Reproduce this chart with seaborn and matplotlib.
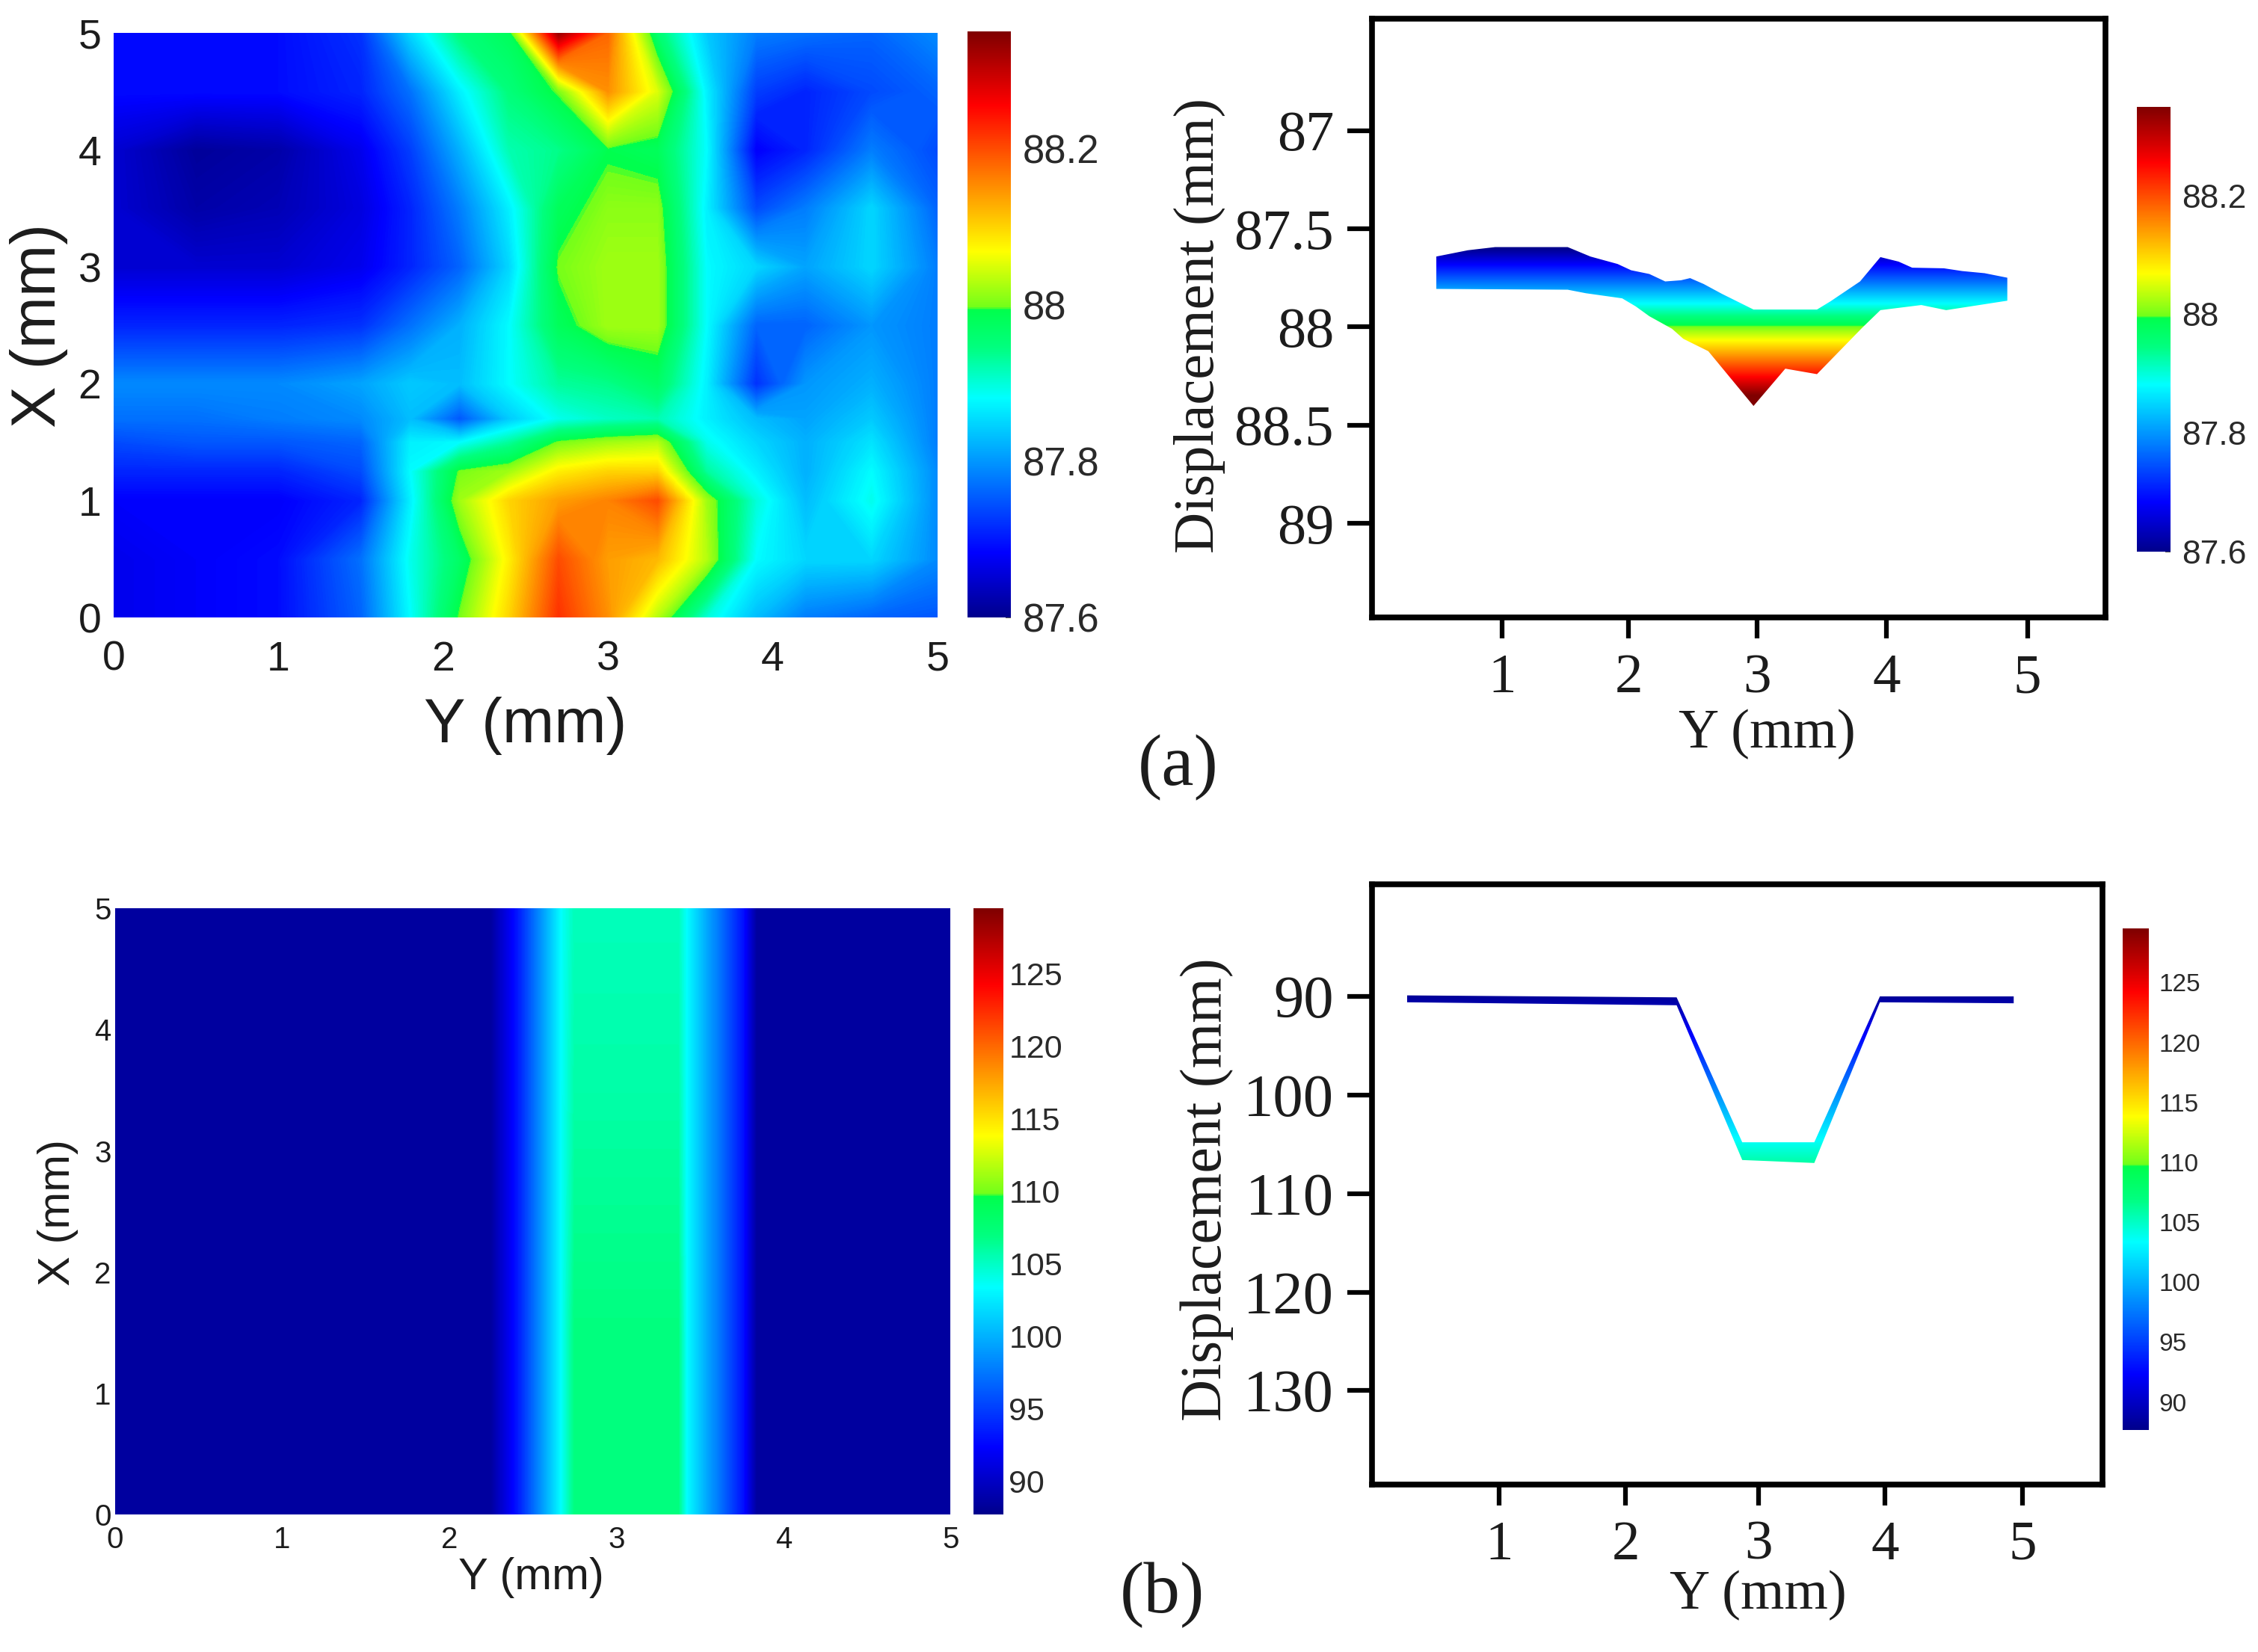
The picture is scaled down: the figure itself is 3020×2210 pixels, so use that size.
import numpy as np
import matplotlib
matplotlib.use("Agg")
import matplotlib.pyplot as plt
from matplotlib.cm import ScalarMappable
from matplotlib.colors import LinearSegmentedColormap, Normalize
import seaborn as sns

# ---------- data ----------
a_y_cols = [0, .5, 1, 1.5, 1.8, 2.1, 2.4, 2.7, 3, 3.3, 3.6, 3.9, 4.2, 4.6, 5]
a_x_rows = [0, .5, 1, 1.25, 1.5, 1.7, 2, 2.5, 3, 3.5, 4, 4.5, 5]
a_row_00 = [87.67, 87.68, 87.69, 87.76, 87.88, 88.00, 88.10, 88.22, 88.15, 88.03, 87.90, 87.83, 87.78, 87.76, 87.75]
a_row_05 = [87.67, 87.68, 87.69, 87.77, 87.89, 87.97, 88.08, 88.20, 88.14, 88.12, 88.03, 87.88, 87.85, 87.85, 87.79]
a_row_10 = [87.68, 87.68, 87.68, 87.71, 87.87, 88.02, 88.10, 88.14, 88.16, 88.20, 88.02, 87.90, 87.83, 87.89, 87.79]
a_row_12 = [87.71, 87.71, 87.71, 87.74, 87.88, 88.00, 88.02, 88.08, 88.10, 88.10, 87.93, 87.87, 87.82, 87.88, 87.79]
a_row_15 = [87.74, 87.75, 87.75, 87.76, 87.87, 87.88, 87.93, 88.00, 88.02, 88.03, 87.89, 87.85, 87.82, 87.86, 87.78]
a_row_17 = [87.77, 87.77, 87.78, 87.79, 87.83, 87.75, 87.84, 87.89, 87.91, 87.92, 87.87, 87.83, 87.81, 87.84, 87.78]
a_row_20 = [87.79, 87.79, 87.79, 87.81, 87.84, 87.83, 87.88, 87.93, 87.94, 87.97, 87.87, 87.72, 87.80, 87.82, 87.78]
a_row_25 = [87.71, 87.71, 87.71, 87.72, 87.77, 87.82, 87.88, 87.98, 88.02, 88.02, 87.88, 87.76, 87.76, 87.80, 87.78]
a_row_30 = [87.65, 87.65, 87.65, 87.67, 87.71, 87.76, 87.85, 88.00, 88.02, 88.02, 87.88, 87.85, 87.81, 87.85, 87.78]
a_row_35 = [87.65, 87.62, 87.63, 87.66, 87.71, 87.78, 87.87, 87.98, 88.01, 88.01, 87.87, 87.74, 87.78, 87.85, 87.76]
a_row_40 = [87.65, 87.61, 87.62, 87.67, 87.73, 87.82, 87.92, 87.94, 87.99, 87.98, 87.88, 87.68, 87.71, 87.78, 87.74]
a_row_45 = [87.69, 87.69, 87.69, 87.71, 87.77, 87.87, 87.95, 88.00, 88.15, 88.05, 87.87, 87.73, 87.71, 87.74, 87.76]
a_row_50 = [87.69, 87.69, 87.69, 87.72, 87.85, 87.95, 87.98, 88.33, 88.18, 87.96, 87.84, 87.78, 87.77, 87.76, 87.79]

a_top_y = [.488, .735, .947, 1.513, 1.690, 1.902, 2.008, 2.150, 2.274, 2.397, 2.468, 2.574, 2.716, 2.892, 2.963,
           3.458, 3.564, 3.794, 3.953, 4.095, 4.201, 4.448, 4.590, 4.766, 4.943]
a_top_d = [87.641, 87.609, 87.593, 87.593, 87.641, 87.679, 87.711, 87.730, 87.768, 87.762, 87.751, 87.781, 87.831, 87.888, 87.911,
           87.911, 87.869, 87.768, 87.644, 87.667, 87.698, 87.701, 87.715, 87.726, 87.749]
a_bot_y = [.488, 1.513, 1.655, 1.938, 2.044, 2.150, 2.327, 2.415, 2.610, 2.963, 3.211, 3.458, 3.812, 3.953, 4.272, 4.466, 4.943]
a_bot_d = [87.806, 87.810, 87.828, 87.854, 87.895, 87.945, 88.009, 88.060, 88.123, 88.402, 88.212, 88.240, 88.003, 87.914, 87.888, 87.914, 87.866]

b_y_cols = [0, 2.25, 2.4, 2.67, 2.75, 3.37, 3.42, 3.76, 3.84, 5]
b_x_rows = [0, 1.5, 3.5, 5]
b_row_0 = [88.5, 88.5, 93.0, 103.4, 107.0, 107.0, 103.4, 93.0, 88.5, 88.5]
b_row_1 = [88.5, 88.5, 93.0, 103.4, 107.0, 107.0, 103.4, 93.0, 88.5, 88.5]
b_row_2 = [88.5, 88.5, 93.0, 103.4, 105.8, 105.8, 103.4, 93.0, 88.5, 88.5]
b_row_3 = [88.5, 88.5, 93.0, 103.4, 105.3, 105.3, 103.4, 93.0, 88.5, 88.5]

b_top_y = [.283, 2.38, 2.89, 3.45, 3.96, 5.0]
b_top_d = [89.9, 90.1, 104.8, 104.8, 90.0, 90.0]
b_bot_y = [.283, 2.38, 2.89, 3.45, 3.96, 5.0]
b_bot_d = [90.6, 90.9, 106.6, 106.9, 90.6, 90.7]

a_range = (87.6, 88.35)
b_range = (87.7, 129.5)
b_band_range = (89.5, 129.5)
a_cbar_ticks = [87.6, 87.8, 88, 88.2]
a_cbar_labels = ['87.6', '87.8', '88', '88.2']
b_cbar_ticks = [90, 95, 100, 105, 110, 115, 120, 125]
a_prof_ticks = [87, 87.5, 88, 88.5, 89]
a_prof_labels = ['87', '87.5', '88', '88.5', '89']
b_prof_ticks = [90, 100, 110, 120, 130]
y_tick_labels = ['1', '2', '3', '4', '5']
a_y_tick_pos = [1, 1.989, 2.989, 4, 5.10]
b_y_tick_pos = [1, 1.985, 3.015, 4, 5.07]

# ---------- style ----------
sns.set_theme(style="ticks")
plt.rcParams['font.family'] = ['Liberation Sans', 'DejaVu Sans']
SANS, SERIF = 'Liberation Sans', 'Liberation Serif'
DARK = '#1c1c1c'
# jet-like ramp with the jump between green and lime that the reference shows
jet = LinearSegmentedColormap.from_list('jetjump', [
    (0.0, (0, 0, .55)), (.11, (0, 0, 1)), (.375, (0, 1, 1)), (.46, (0, 1, .5)), (.525, (0, 1, .3)),
    (.53, (.45, 1, .1)), (.625, (1, 1, 0)), (.875, (1, 0, 0)), (1.0, (.5, 0, 0))], N=512)

W, H, DPI = 3020, 2210, 100
S = W / 1568
fig = plt.figure(figsize=(W / DPI, H / DPI), dpi=DPI, facecolor='white')


def box(x0, y0, x1, y1):
    """Axes from corners measured on the 1568-wide view."""
    return fig.add_axes([x0 * S / W, 1 - y1 * S / H, (x1 - x0) * S / W, (y1 - y0) * S / H])


def fx(x):
    return x * S / W


def fy(y):
    return 1 - y * S / H


def place_labels(ax, xlab, ylab, xpos, ypos, family, xsize, ysize):
    ax.set_xlabel(xlab, family=family, fontsize=xsize, color=DARK, ha='center', va='center')
    ax.set_ylabel(ylab, family=family, fontsize=ysize, color=DARK, ha='center', va='center')
    ax.xaxis.set_label_coords(fx(xpos[0]), fy(xpos[1]), transform=fig.transFigure)
    ax.yaxis.set_label_coords(fx(ypos[0]), fy(ypos[1]), transform=fig.transFigure)


def surface(rect, cols, rows, grid, rng, ticksize, padx, pady):
    ax = box(*rect)
    norm = Normalize(*rng)
    ax.contourf(cols, rows, np.array(grid), levels=np.linspace(rng[0], rng[1], 301), cmap=jet, norm=norm,
                extend='both', antialiased=False)
    ax.set_xlim(0, 5)
    ax.set_ylim(0, 5)
    ax.set_xticks(range(6))
    ax.set_yticks(range(6))
    ax.tick_params(axis='x', length=0, pad=padx, labelsize=ticksize, labelcolor=DARK)
    ax.tick_params(axis='y', length=0, pad=pady, labelsize=ticksize, labelcolor=DARK)
    for s in ax.spines.values():
        s.set_visible(False)
    for t in ax.get_xticklabels() + ax.get_yticklabels():
        t.set_family(SANS)
    return ax, ScalarMappable(norm=norm, cmap=jet)


def colorbar(rect, mappable, ticks, labels, size, pad):
    cax = box(*rect)
    cb = fig.colorbar(mappable, cax=cax)
    cb.set_ticks(ticks)
    cb.set_ticklabels(labels)
    cb.outline.set_visible(False)
    cb.ax.tick_params(length=5, width=1.2, direction='in', pad=pad, labelsize=size,
                      color='#333333', labelcolor='#2a2a2a', right=True)
    for t in cb.ax.get_yticklabels():
        t.set_family(SANS)


def profile(rect, top_y, top_d, bot_y, bot_d, rng, xlim, ylim, xt, yt, yl, ysize):
    ax = box(*rect)
    py = np.r_[top_y, bot_y[::-1]]
    pd_ = np.r_[top_d, bot_d[::-1]]
    dmin, dmax = pd_.min(), pd_.max()
    grad = np.linspace(dmin, dmax, 400)[:, None]
    im = ax.imshow(grad, extent=[py.min(), py.max(), dmax, dmin], origin='upper', aspect='auto',
                   cmap=jet, vmin=rng[0], vmax=rng[1], interpolation='bilinear')
    outline = ax.fill(py, pd_, facecolor='none', edgecolor='none')[0]
    im.set_clip_path(outline)
    sns.lineplot(x=top_y, y=top_d, ax=ax, estimator=None, linewidth=0, legend=False)
    sns.lineplot(x=bot_y, y=bot_d, ax=ax, estimator=None, linewidth=0, legend=False)
    ax.set_xlim(*xlim)
    ax.set_ylim(*ylim)
    ax.set_xticks(xt)
    ax.set_xticklabels(y_tick_labels)
    ax.set_yticks(yt)
    ax.set_yticklabels(yl)
    ax.tick_params(axis='y', length=24, width=4.5, pad=13, labelsize=ysize, color='black', labelcolor=DARK)
    ax.tick_params(axis='x', length=20, width=4.5, pad=15, labelsize=54, color='black', labelcolor=DARK)
    for t in ax.get_xticklabels() + ax.get_yticklabels():
        t.set_family(SERIF)
    for s in ax.spines.values():
        s.set_visible(True)
        s.set_linewidth(5.5)
        s.set_color('black')
    return ax


# ---------- panel (a) ----------
a_grid = [a_row_00, a_row_05, a_row_10, a_row_12, a_row_15, a_row_17, a_row_20,
          a_row_25, a_row_30, a_row_35, a_row_40, a_row_45, a_row_50]
ax, m = surface((79, 23, 651, 429), a_y_cols, a_x_rows, a_grid, a_range, 40, 22, 12)
place_labels(ax, 'Y (mm)', 'X (mm)', (365, 504), (27, 226), SANS, 60, 60)
colorbar((672, 22, 702, 429), m, a_cbar_ticks, a_cbar_labels, 38, 11)

ax = profile((953, 13, 1462, 429), a_top_y, a_top_d, a_bot_y, a_bot_d, a_range, (-0.011, 5.708), (89.48, 86.43),
             a_y_tick_pos, a_prof_ticks, a_prof_labels, 55)
place_labels(ax, 'Y (mm)', 'Displacement (mm)', (1227, 510), (833, 226), SERIF, 54, 55)
colorbar((1484, 74, 1507, 383), m, a_cbar_ticks, a_cbar_labels, 32, 11)

# ---------- panel (b) ----------
b_grid = [b_row_0, b_row_1, b_row_2, b_row_3]
ax, m = surface((80, 631, 660, 1052), b_y_cols, b_x_rows, b_grid, b_range, 29, 11, 4)
place_labels(ax, 'Y (mm)', 'X (mm)', (369, 1096), (40, 842), SANS, 43, 43)
colorbar((676, 631, 697, 1052), m, b_cbar_ticks, [str(v) for v in b_cbar_ticks], 31, 5)

ax = profile((953, 614, 1460, 1031), b_top_y, b_top_d, b_bot_y, b_bot_d, b_band_range, (0.015, 5.69), (139.5, 78.6),
             b_y_tick_pos, b_prof_ticks, [str(v) for v in b_prof_ticks], 58)
place_labels(ax, 'Y (mm)', 'Displacement (mm)', (1221, 1108), (838, 826), SERIF, 54, 56)
colorbar((1474, 645, 1492, 993), m, b_cbar_ticks, [str(v) for v in b_cbar_ticks], 24, 10)

fig.text(fx(818), fy(533), '(a)', family=SERIF, fontsize=70, ha='center', va='center', color=DARK)
fig.text(fx(807), fy(1108), '(b)', family=SERIF, fontsize=70, ha='center', va='center', color=DARK)

fig.savefig('out.png', dpi=DPI, facecolor='white')
